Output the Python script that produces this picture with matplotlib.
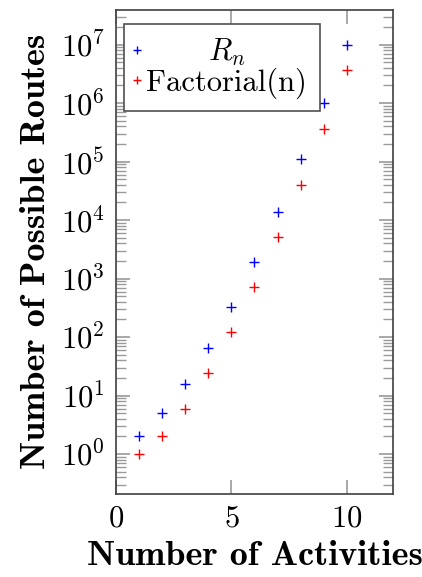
import numpy as np
import matplotlib
matplotlib.use("Agg")
from matplotlib import pyplot as plt
from matplotlib.ticker import LogLocator, NullFormatter

activities = [1, 2, 3, 4, 5, 6, 7, 8, 9, 10]
routes = [2, 5, 16, 65, 326, 1957, 13700, 109601, 986410, 9864101]
factorial = [1, 2, 6, 24, 120, 720, 5040, 40320, 362880, 3628800]

plt.rcParams["font.family"] = "serif"
plt.rcParams["font.serif"] = ["cmr10"]
plt.rcParams["mathtext.fontset"] = "cm"
plt.rcParams["axes.formatter.use_mathtext"] = True
plt.rcParams["axes.unicode_minus"] = False

fig = plt.figure(figsize=(4.22, 5.77), dpi=100)
ax = fig.add_axes([116 / 422, 1 - 494 / 577, 277 / 422, 484.5 / 577])

ax.plot(activities, routes, linestyle="none", marker="+", color="blue", markersize=7, markeredgewidth=1.0, label="$R_n$")
ax.plot(activities, factorial, linestyle="none", marker="+", color="red", markersize=7, markeredgewidth=1.0, label="Factorial(n)")

ax.set_yscale("log")
ax.set_xlim(0, 12)
ax.set_ylim(10 ** -0.683, 10 ** 7.6)
ax.set_xticks([0, 5, 10])
ax.yaxis.set_major_locator(LogLocator(base=10, numticks=20))
ax.yaxis.set_minor_locator(LogLocator(base=10, subs=np.arange(2, 10), numticks=20))
ax.yaxis.set_minor_formatter(NullFormatter())

ax.tick_params(which="both", direction="in", top=True, right=True, color="#9a9a9a", labelsize=22)
ax.tick_params(which="major", length=10, width=1.2, pad=8)
ax.tick_params(which="minor", length=7, width=1.0)
for s in ax.spines.values():
    s.set_color("#404040")
    s.set_linewidth(1.2)

ax.set_xlabel("Number of Activities", fontfamily="cmb10", fontsize=26, labelpad=6)
ax.set_ylabel("Number of Possible Routes", fontfamily="cmb10", fontsize=26, labelpad=6)

leg = ax.legend(loc="upper left", bbox_to_anchor=(0.03, 0.97), borderaxespad=0,
                fontsize=22, frameon=True, fancybox=False, edgecolor="#505050",
                framealpha=1, handlelength=0.0, handletextpad=0.3, borderpad=0.42,
                labelspacing=-0.03, markerscale=0.9)
leg.get_frame().set_linewidth(1.2)

# centre the shorter legend entry like pgfplots does
fig.canvas.draw()
r = fig.canvas.get_renderer()
w = [t.get_window_extent(r).width for t in leg.get_texts()]
leg.get_texts()[0].set_x((max(w) - w[0]) / 2)

fig.savefig("out.png", dpi=100)
